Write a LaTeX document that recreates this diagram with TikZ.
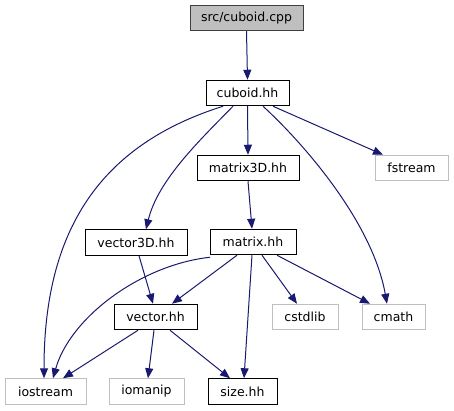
\documentclass[tikz,border=0pt]{standalone}
\usepackage{fontspec}
\setmainfont{DejaVu Sans}
\usetikzlibrary{arrows.meta}
\definecolor{edgeblue}{HTML}{191970}
\definecolor{extgray}{HTML}{BFBFBF}
\definecolor{topborder}{HTML}{404040}
\tikzset{
  base/.style={rectangle, inner sep=0pt, minimum height=25.5pt, line width=1pt, font=\fontsize{12.5}{14}\selectfont},
  doc/.style={base, draw=black},
  ext/.style={base, draw=extgray},
  top/.style={base, draw=topborder, fill=extgray},
  dep/.style={draw=edgeblue, line width=1pt, -{Triangle[length=10pt,width=8pt,fill=edgeblue]}},
}
\begin{document}
\begin{tikzpicture}[x=1pt,y=-1pt]
\useasboundingbox (0,0) rectangle (454,411);
\node[top, minimum width=113pt] (cpp) at (246.5,18) {src/cuboid.cpp};
\node[doc, minimum width=83pt] (cuboid) at (247.5,93) {cuboid.hh};
\node[doc, minimum width=102pt] (m3d) at (248,168) {matrix3D.hh};
\node[ext, minimum width=73pt] (fstream) at (411.5,168) {fstream};
\node[doc, minimum width=102pt] (v3d) at (136,242.5) {vector3D.hh};
\node[doc, minimum width=86pt] (matrix) at (253,242) {matrix.hh};
\node[doc, minimum width=83pt] (vector) at (155.5,317) {vector.hh};
\node[ext, minimum width=66pt] (cstdlib) at (305,317) {cstdlib};
\node[ext, minimum width=63pt] (cmath) at (393.5,317) {cmath};
\node[ext, minimum width=81pt] (iostream) at (45.5,391.5) {iostream};
\node[ext, minimum width=75pt] (iomanip) at (146.5,391.5) {iomanip};
\node[doc, minimum width=69pt] (size) at (242.5,391.5) {size.hh};

\draw[dep] (cpp.south) -- (cuboid.north);
\draw[dep] (cuboid.south) -- (m3d.north);
\draw[dep] ([xshift=-14.5pt]cuboid.south) .. controls (200,140) and (158,180) .. ([xshift=10pt]v3d.north);
\draw[dep] ([xshift=-24.5pt]cuboid.south) .. controls (100,145) and (44,230) .. ([xshift=-1.5pt]iostream.north);
\draw[dep] ([xshift=25.5pt]cuboid.south) -- ([xshift=-28.5pt]fstream.north);
\draw[dep] ([xshift=15.5pt]cuboid.south) .. controls (300,140) and (372,220) .. ([xshift=-6.5pt]cmath.north);
\draw[dep] (m3d.south) -- ([xshift=-1pt]matrix.north);
\draw[dep] ([xshift=-16pt]matrix.south) -- ([xshift=16.5pt]vector.north);
\draw[dep] ([xshift=-43pt,yshift=-2pt]matrix.south) .. controls (140,265) and (70,318) .. ([xshift=7.5pt]iostream.north);
\draw[dep] ([xshift=-1pt]matrix.south) -- ([xshift=1.5pt]size.north);
\draw[dep] ([xshift=9pt]matrix.south) -- ([xshift=-8pt]cstdlib.north);
\draw[dep] ([xshift=24pt]matrix.south) -- ([xshift=-23.5pt]cmath.north);
\draw[dep] ([xshift=3pt]v3d.south) -- ([xshift=-2.5pt]vector.north);
\draw[dep] ([xshift=-17.5pt]vector.south) -- ([xshift=17.5pt]iostream.north);
\draw[dep] ([xshift=-1.5pt]vector.south) -- ([xshift=1.5pt]iomanip.north);
\draw[dep] ([xshift=14.5pt]vector.south) -- ([xshift=-12.5pt]size.north);
\end{tikzpicture}
\end{document}
